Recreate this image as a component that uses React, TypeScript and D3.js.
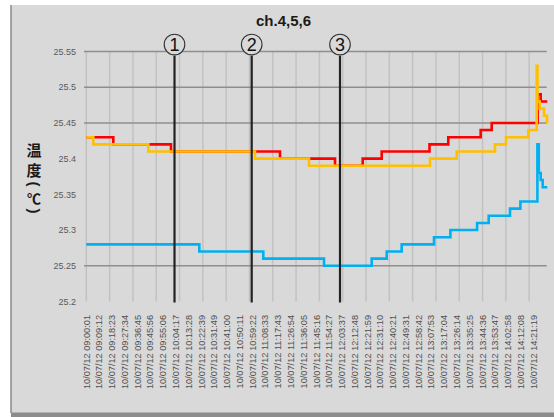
import React from "react";
import * as d3 from "d3";

// Chart text
const TITLE = "ch.4,5,6";
const DATE = "10/07/12";
const Y_TITLE_CHARS = ["温", "度", "(", "℃", ")"];

// Time span of the logged run (hh:mm:ss)
const START = "09:00:01";
const END = "14:31:17";

// Category labels shown along the time axis
const X_LABEL_TIMES = [
  "09:00:01", "09:09:12", "09:18:23", "09:27:34", "09:36:45", "09:45:56",
  "09:55:06", "10:04:17", "10:13:28", "10:22:39", "10:31:49", "10:41:00",
  "10:50:11", "10:59:22", "11:08:33", "11:17:43", "11:26:54", "11:36:05",
  "11:45:16", "11:54:27", "12:03:37", "12:12:48", "12:21:59", "12:31:10",
  "12:40:21", "12:49:31", "12:58:42", "13:07:53", "13:17:04", "13:26:14",
  "13:35:25", "13:44:36", "13:53:47", "14:02:58", "14:12:08", "14:21:19",
];

// Vertical gridline spacing, seconds
const GRID_STEP_SEC = 1005;

// Value axis
const Y_TICKS = [25.2, 25.25, 25.3, 25.35, 25.4, 25.45, 25.5, 25.55];
const Y_GRID = [25.25, 25.45, 25.5, 25.55];

// Temperature readings as step changes [time, °C]
const CH4: [string, number][] = [
  ["09:00:01", 25.43], ["09:19:25", 25.42], ["10:00:53", 25.41],
  ["11:19:12", 25.40], ["11:58:44", 25.39], ["12:18:38", 25.40],
  ["12:32:17", 25.41], ["13:06:38", 25.42], ["13:20:08", 25.43],
  ["13:43:25", 25.44], ["13:51:20", 25.45], ["14:24:20", 25.49],
  ["14:26:32", 25.48], ["14:31:17", 25.48],
];

const CH5: [string, number][] = [
  ["09:00:01", 25.43], ["09:05:03", 25.42], ["09:44:34", 25.41],
  ["11:01:14", 25.40], ["11:40:03", 25.39], ["13:06:59", 25.40],
  ["13:26:11", 25.41], ["13:53:42", 25.42], ["14:01:36", 25.43],
  ["14:17:38", 25.44], ["14:23:40", 25.53], ["14:24:14", 25.48],
  ["14:25:50", 25.47], ["14:28:54", 25.46], ["14:31:05", 25.45],
  ["14:31:17", 25.45],
];

const CH6: [string, number][] = [
  ["09:00:01", 25.28], ["10:21:13", 25.27], ["11:07:12", 25.26],
  ["11:50:49", 25.25], ["12:25:06", 25.26], ["12:35:53", 25.27],
  ["12:46:39", 25.28], ["13:09:52", 25.29], ["13:21:39", 25.30],
  ["13:40:50", 25.31], ["13:49:10", 25.32], ["14:04:29", 25.33],
  ["14:11:57", 25.34], ["14:24:10", 25.42], ["14:25:10", 25.38],
  ["14:26:32", 25.37], ["14:27:59", 25.36], ["14:31:17", 25.36],
];

// Event markers on the timeline
const MARKERS: { n: string; time: string }[] = [
  { n: "1", time: "10:03:24" },
  { n: "2", time: "10:58:52" },
  { n: "3", time: "12:02:19" },
];

const SERIES = [
  { name: "ch.6", data: CH6, color: "#00b0f0" },
  { name: "ch.4", data: CH4, color: "#ff0000" },
  { name: "ch.5", data: CH5, color: "#ffc000" },
];

const W = 554;
const H = 417;

const toSec = (t: string) => {
  const [h, m, s] = t.split(":").map(Number);
  return h * 3600 + m * 60 + s;
};
const t0 = toSec(START);
const rel = (t: string) => toSec(t) - t0;

export default function App() {
  const plot = { left: 84, right: 547.3, top: 51.5, bottom: 301.5 };
  const x = d3.scaleLinear().domain([0, rel(END)]).range([86.3, 547.3]);
  const y = d3.scaleLinear().domain([25.2, 25.55]).range([plot.bottom, plot.top]);

  const line = d3
    .line<[string, number]>()
    .x((d) => x(rel(d[0])))
    .y((d) => y(d[1]))
    .curve(d3.curveStepAfter);

  const vGrid = d3.range(0, rel(END), GRID_STEP_SEC).filter((s) => x(s) < plot.right - 4);

  const font = "'Liberation Sans', Arial, sans-serif";
  const cjk = "'Noto Sans CJK JP', sans-serif";

  // stacked title glyphs: y centre, size, rotation for the brackets
  const titleLayout = [
    { y: 149, size: 15, rot: 0, family: cjk },
    { y: 169.5, size: 15, rot: 0, family: cjk },
    { y: 184, size: 15, rot: 90, family: font },
    { y: 197.5, size: 14, rot: 0, family: cjk },
    { y: 211, size: 15, rot: 90, family: font },
  ];

  return (
    <svg
      width={W}
      height={H}
      style={{ position: "absolute", left: 0, top: 0, display: "block" }}
      xmlns="http://www.w3.org/2000/svg"
    >
      <rect x={0} y={0} width={W} height={H} fill="#ffffff" />
      <rect x={11} y={5} width={W - 11} height={408} fill="#d9d9d9" />
      <line x1={11} y1={5} x2={11} y2={413} stroke="#8a8a8a" strokeWidth={1.5} />
      <rect x={11} y={412.5} width={W - 11} height={4.5} fill="#8c8c8c" />

      {/* vertical gridlines */}
      {vGrid.map((s) => (
        <line
          key={"v" + s}
          x1={x(s)}
          x2={x(s)}
          y1={plot.top}
          y2={plot.bottom}
          stroke="#c2c2c2"
          strokeWidth={1.5}
        />
      ))}

      {/* horizontal gridlines */}
      {Y_GRID.map((v) => (
        <line
          key={"h" + v}
          x1={plot.left}
          x2={plot.right - 0.6}
          y1={y(v)}
          y2={y(v)}
          stroke="#8e8e8e"
          strokeWidth={1.5}
        />
      ))}

      {/* value axis labels */}
      {Y_TICKS.map((v) => (
        <text
          key={"yt" + v}
          x={76}
          y={y(v)}
          dy="0.35em"
          textAnchor="end"
          fontFamily={font}
          fontSize={9}
          fill="#595959"
        >
          {String(v)}
        </text>
      ))}

      {/* time axis labels */}
      {X_LABEL_TIMES.map((t) => (
        <text
          key={"xt" + t}
          transform={`translate(${x(rel(t))},315) rotate(-90)`}
          dy="0.35em"
          textAnchor="end"
          fontFamily={font}
          fontSize={9.2}
          fill="#505050"
        >
          {`${DATE} ${t}`}
        </text>
      ))}

      {/* series */}
      {SERIES.map((s) => (
        <path
          key={s.name}
          d={line(s.data) || ""}
          fill="none"
          stroke={s.color}
          strokeWidth={2.6}
          strokeLinejoin="miter"
        />
      ))}

      {/* event markers */}
      {MARKERS.map((m) => {
        const mx = x(rel(m.time));
        return (
          <g key={"m" + m.n}>
            <line x1={mx} x2={mx} y1={55.5} y2={302.5} stroke="#222222" strokeWidth={2.2} />
            <circle cx={mx} cy={44.5} r={10.3} fill="#d9d9d9" stroke="#333333" strokeWidth={1.1} />
            <text
              x={mx}
              y={44.8}
              dy="0.36em"
              textAnchor="middle"
              fontFamily={font}
              fontSize={18}
              fill="#111111"
            >
              {m.n}
            </text>
          </g>
        );
      })}

      {/* title */}
      <text
        x={283.5}
        y={26}
        textAnchor="middle"
        fontFamily={font}
        fontWeight="bold"
        fontSize={15}
        fill="#1a1a1a"
      >
        {TITLE}
      </text>

      {/* value axis title, stacked vertically */}
      {Y_TITLE_CHARS.map((c, i) => {
        const L = titleLayout[i];
        return (
          <text
            key={"yc" + i}
            transform={`translate(34,${L.y}) rotate(${L.rot})`}
            dominantBaseline="central"
            textAnchor="middle"
            fontFamily={L.family}
            fontWeight="bold"
            fontSize={L.size}
            fill="#1a1a1a"
          >
            {c}
          </text>
        );
      })}
    </svg>
  );
}
